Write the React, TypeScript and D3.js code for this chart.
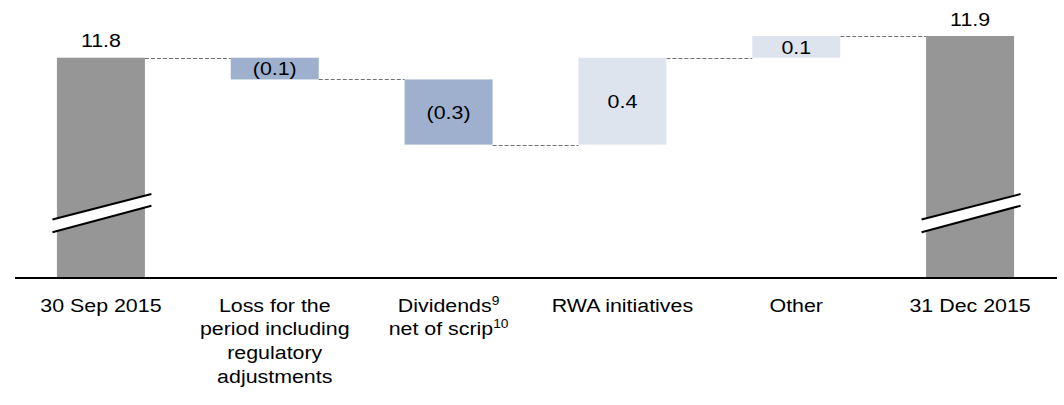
import React from "react";
import * as d3 from "d3";

const categories = ["30 Sep 2015", "Loss", "Dividends", "RWA", "Other", "31 Dec 2015"];
const labelLines: string[][] = [
  ["30 Sep 2015"],
  ["Loss for the", "period including", "regulatory", "adjustments"],
  ["Dividends", "net of scrip"],
  ["RWA initiatives"],
  ["Other"],
  ["31 Dec 2015"],
];
const labelSups: string[][] = [[""], ["", "", "", ""], ["9", "10"], [""], [""], [""]];
const startValue = 11.8;
const deltas = [-0.1, -0.3, 0.4, 0.1];
const endValue = 11.9;
const valueLabels = ["11.8", "(0.1)", "(0.3)", "0.4", "0.1", "11.9"];

const W = 1064;
const H = 405;
const axisY = 278;
const FONT = "'Liberation Sans', Arial, sans-serif";
const FS = 18.6;
const SX = 1.15;

export default function App() {
  const x = d3.scalePoint<string>().domain(categories).range([14, 1057]).padding(0.5);
  const y = d3.scaleLinear().domain([10.786, 11.9]).range([axisY, 36]);
  const bw = 88;

  type Bar = { cat: string; y0: number; y1: number; kind: "total" | "neg" | "pos"; label: string };
  const bars: Bar[] = [];
  bars.push({ cat: categories[0], y0: y.domain()[0], y1: startValue, kind: "total", label: valueLabels[0] });
  let level = startValue;
  deltas.forEach((d, i) => {
    const next = +(level + d).toFixed(4);
    bars.push({
      cat: categories[i + 1],
      y0: Math.min(level, next),
      y1: Math.max(level, next),
      kind: d < 0 ? "neg" : "pos",
      label: valueLabels[i + 1],
    });
    level = next;
  });
  bars.push({ cat: categories[5], y0: y.domain()[0], y1: endValue, kind: "total", label: valueLabels[5] });

  const levels: number[] = [startValue];
  let lv = startValue;
  deltas.forEach((d) => {
    lv = +(lv + d).toFixed(4);
    levels.push(lv);
  });

  const colors = { total: "#969696", neg: "#9eb0ce", pos: "#dee4ee" };

  return (
    <svg width={W} height={H} style={{ position: "absolute", left: 0, top: 0, background: "#fff" }} fontFamily={FONT}>
      {levels.map((lvv, i) => {
        const x1 = (x(categories[i]) as number) + bw / 2;
        const x2 = (x(categories[i + 1]) as number) - bw / 2;
        return (
          <line key={"c" + i} x1={x1} x2={x2} y1={Math.round(y(lvv)) + 0.5} y2={Math.round(y(lvv)) + 0.5}
            stroke="#707070" strokeWidth={1.2} strokeDasharray="4,2" />
        );
      })}
      {bars.map((b, i) => {
        const cx = x(b.cat) as number;
        const top = y(b.y1);
        const bot = y(b.y0);
        const ty = b.kind === "total" ? top - 10.5 : (top + bot) / 2 + 6.8;
        return (
          <g key={"b" + i}>
            <rect x={cx - bw / 2} y={top} width={bw} height={bot - top} fill={colors[b.kind]} />
            <text transform={`translate(${cx},${ty}) scale(${SX},1)`} textAnchor="middle" fontSize={FS} fill="#000">
              {b.label}
            </text>
          </g>
        );
      })}
      {bars.filter((b) => b.kind === "total").map((b, i) => {
        const cx = x(b.cat) as number;
        const xl = cx - bw / 2 - 4.5;
        const xr = cx + bw / 2 + 6.5;
        const pts = `${xl},219.5 ${xr},194 ${xr},205.7 ${xl},232.3`;
        return (
          <g key={"br" + i}>
            <polygon points={pts} fill="#fff" />
            <line x1={xl} y1={219.5} x2={xr} y2={194} stroke="#000" strokeWidth={2} />
            <line x1={xl} y1={232.3} x2={xr} y2={205.7} stroke="#000" strokeWidth={2} />
          </g>
        );
      })}
      <line x1={15} x2={1057} y1={axisY} y2={axisY} stroke="#000" strokeWidth={2} />
      {categories.map((c, i) => {
        const cx = x(c) as number;
        return (
          <text key={"l" + i} transform={`translate(${cx},311.5) scale(${SX},1)`} textAnchor="middle" fontSize={FS} fill="#000">
            {labelLines[i].map((ln, j) => (
              <tspan key={j} x={0} y={j * 23.8}>
                {ln}
                {labelSups[i][j] ? (
                  <tspan fontSize={12} dy={-7}>{labelSups[i][j]}</tspan>
                ) : null}
              </tspan>
            ))}
          </text>
        );
      })}
    </svg>
  );
}
